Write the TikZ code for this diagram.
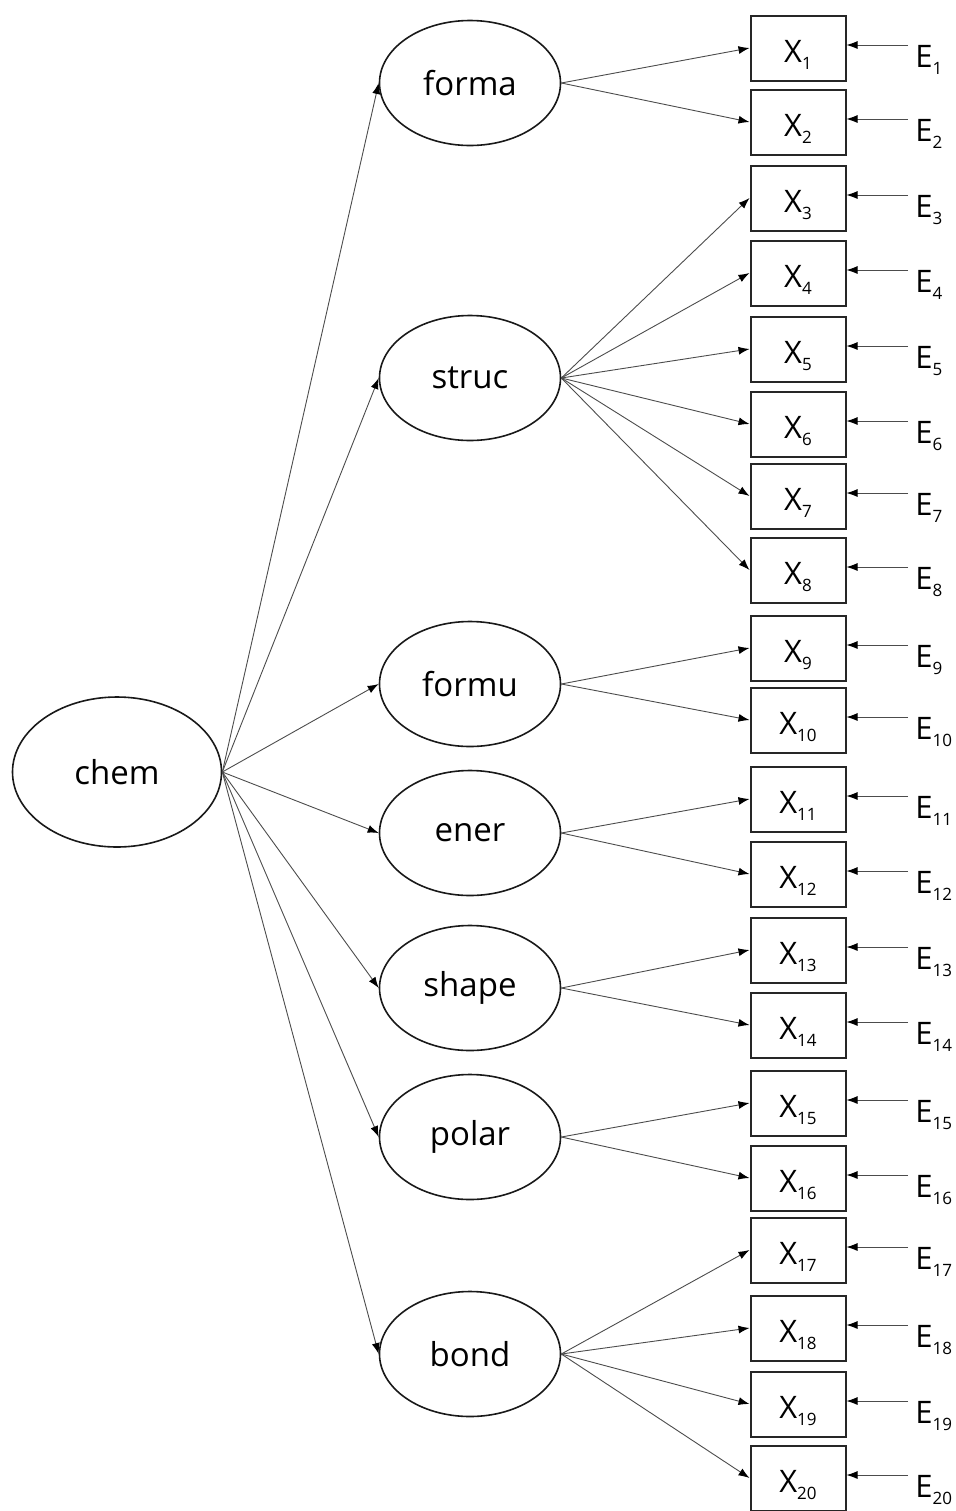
\documentclass[tikz,border=0pt]{standalone}
\usepackage{fontspec}
\setmainfont{Open Sans}
\usetikzlibrary{shapes.geometric,arrows.meta}
% small lowered index used for the indicator and error labels
\newcommand\lowidx[1]{\raisebox{-3.5pt}{\fontsize{8.5}{9}\selectfont #1}}
\begin{document}
\begin{tikzpicture}[x=0.5pt,y=-0.5pt,
  latent/.style={draw=black!90,line width=0.8pt,ellipse,minimum width=90.5pt,
    minimum height=62.5pt,inner sep=0pt,font=\fontsize{16.5}{19}\selectfont},
  obs/.style={draw=black!85,line width=1pt,rectangle,minimum width=47.5pt,
    minimum height=32.5pt,inner sep=0pt,text height=14pt,text depth=0pt,
    font=\fontsize{15.5}{18}\selectfont},
  err/.style={inner sep=0pt,anchor=base west,font=\fontsize{15.5}{18}\selectfont},
  link/.style={draw=black!70,line width=0.45pt,
    -{Latex[length=5.5pt,width=4pt,color=black]}}]
\useasboundingbox (0,0) rectangle (956,1511);

% second-order factor
\node[latent,minimum width=104.5pt,minimum height=75pt] (chem) at (117,772) {chem};

% first-order factors
\foreach \n/\y in {forma/83, struc/378, formu/684, ener/833, shape/988, polar/1137, bond/1354}
  \node[latent] (\n) at (470,\y) {\n};

% indicators and their error terms
\foreach \i/\y in {1/48, 2/122, 3/198, 4/273, 5/349, 6/424, 7/496, 8/570, 9/648, 10/720,
                   11/799, 12/874, 13/950, 14/1025, 15/1103, 16/1178, 17/1250, 18/1328,
                   19/1404, 20/1478} {
  \node[obs] (X\i) at (798,\y) {X\lowidx{\i}};
  \node[err] (E\i) at (915,\y+19) {E\lowidx{\i}};
  \coordinate (e\i) at (908,\y-3);
  \draw[link] (e\i) -- (X\i.east |- e\i);
}

% structural paths
\foreach \n in {forma, struc, formu, ener, shape, polar, bond}
  \draw[link] (chem.east) -- (\n.west);

% measurement paths
\foreach \n/\i in {forma/1, forma/2, struc/3, struc/4, struc/5, struc/6, struc/7, struc/8,
                   formu/9, formu/10, ener/11, ener/12, shape/13, shape/14, polar/15,
                   polar/16, bond/17, bond/18, bond/19, bond/20}
  \draw[link] (\n.east) -- (X\i.west);
\end{tikzpicture}
\end{document}
